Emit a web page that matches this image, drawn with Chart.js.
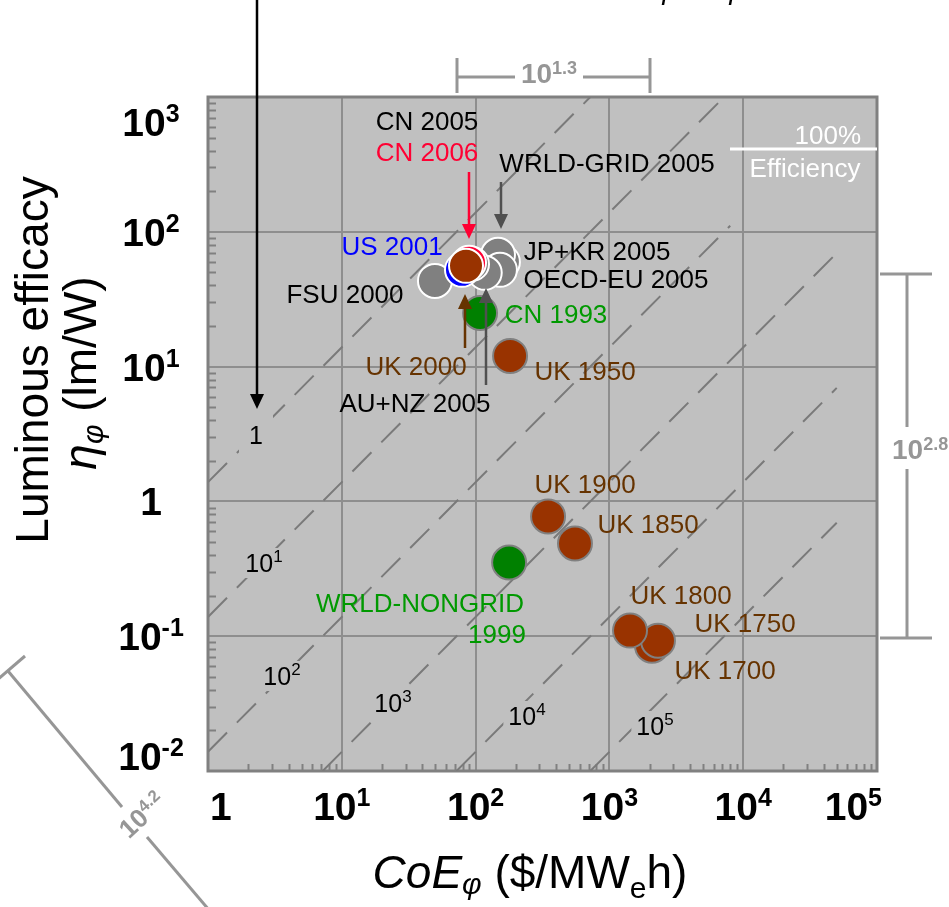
<!DOCTYPE html>
<html>
<head>
<meta charset="utf-8">
<script src="https://cdn.jsdelivr.net/npm/chart.js@4.4.0/dist/chart.umd.min.js"></script>
<style>
html,body{margin:0;padding:0;background:#ffffff;}
canvas{display:block;}
</style>
</head>
<body>
<canvas id="c" width="949" height="907" style="width:949px;height:907px"></canvas>
<script>
// ---------- data ----------
const xTicks = [1, 10, 100, 1000, 10000, 100000];
const xTickLabels = ['1', '10^1', '10^2', '10^3', '10^4', '10^5'];
const yTicks = [0.01, 0.1, 1, 10, 100, 1000];
const yTickLabels = ['10^-2', '10^-1', '1', '10^1', '10^2', '10^3'];

// UK historical series (CoE $/MWh, efficacy lm/W)
const ukNames = ['UK 1700', 'UK 1750', 'UK 1800', 'UK 1850', 'UK 1900', 'UK 1950'];
const ukCoE = [2080, 2307, 1426, 553, 348, 181];
const ukEff = [0.085, 0.0926, 0.110, 0.487, 0.774, 12.0];

// green series
const greenNames = ['CN 1993', 'WRLD-NONGRID 1999'];
const greenCoE = [108, 178];
const greenEff = [25.0, 0.352];

// gray (grid) series
const grayNames = ['JP+KR 2005', 'WRLD-GRID 2005', 'OECD-EU 2005', 'AU+NZ 2005', 'FSU 2000', 'CN 2005'];
const grayCoE = [160, 147, 152, 117, 49.7, 94];
const grayEff = [59.8, 67.5, 52.2, 49.6, 43.2, 57.8];

const usCoE = [79.1], usEff = [52.2];
const cn2006CoE = [89.3], cn2006Eff = [58.9];
const uk2000CoE = [84.8], uk2000Eff = [55.9];

// iso cost-of-light lines (end points)
const isoLabels = ['1', '10^1', '10^2', '10^3', '10^4', '10^5'];
const isoStartCoE = [1, 1, 1, 7.2, 72, 720];
const isoStartEff = [1.39, 0.139, 0.0139, 0.01, 0.01, 0.01];
const isoEndCoE = [720, 7200, 8000, 50000, 50000, 50000];
const isoEndEff = [1000, 1000, 111, 69.5, 6.95, 0.695];

// ---------- styles / layout ----------
const FF = '"Liberation Sans", Arial, Helvetica, sans-serif';
const COL = {
  brown: '#993300', brownText: '#663300', green: '#008000', greenText: '#009900',
  gray: '#808080', blue: '#0000ff', red: '#ff0033', anno: '#969696',
  plot: '#c0c0c0', grid: '#8e8e8e', frame: '#808080', dash: '#7a7a7a'
};

const textLabels = [
  ['CN 2005', 427, 121, '#000000'],
  ['CN 2006', 427, 152, COL.red],
  ['US 2001', 392, 246, COL.blue],
  ['FSU 2000', 345, 294, '#000000'],
  ['WRLD-GRID 2005', 607, 163, '#000000'],
  ['JP+KR 2005', 597, 251, '#000000'],
  ['OECD-EU 2005', 616, 279, '#000000'],
  ['CN 1993', 556, 314, COL.greenText],
  ['UK 2000', 416, 366, COL.brownText],
  ['AU+NZ 2005', 415, 403, '#000000'],
  ['UK 1950', 585, 371, COL.brownText],
  ['UK 1900', 585, 484, COL.brownText],
  ['UK 1850', 648, 524, COL.brownText],
  ['WRLD-NONGRID', 420, 603, COL.greenText],
  ['1999', 497, 634, COL.greenText],
  ['UK 1800', 681, 595, COL.brownText],
  ['UK 1750', 745, 623, COL.brownText],
  ['UK 1700', 725, 670, COL.brownText]
];
const isoLabelPos = [[256, 435], [264, 563], [282, 676], [393, 703], [527, 716], [655, 726]];
const arrows = [
  [257, 0, 409, '#000000'],
  [469, 172, 239, COL.red],
  [501, 182, 229, '#505050'],
  [465, 348, 294, COL.brownText],
  [486, 385, 288, '#505050']
];

function pts(xs, ys) { return xs.map((x, i) => ({ x: x, y: ys[i] })); }
function ptStyle(bg, border) {
  return { pointRadius: 17, pointHoverRadius: 17, pointBackgroundColor: bg,
           pointBorderColor: border, pointBorderWidth: 2, pointHoverBorderWidth: 2, showLine: false };
}

const datasets = [];
isoLabels.forEach((l, i) => {
  datasets.push({
    label: 'CoL ' + l,
    data: [{ x: isoStartCoE[i], y: isoStartEff[i] }, { x: isoEndCoE[i], y: isoEndEff[i] }],
    showLine: true, borderColor: COL.dash, borderWidth: 2, borderDash: [27, 14],
    pointRadius: 0, pointHoverRadius: 0, order: 20
  });
});
datasets.push(Object.assign({ label: 'UK', data: pts(ukCoE, ukEff), order: 8 }, ptStyle(COL.brown, '#808080')));
datasets.push(Object.assign({ label: 'Green', data: pts(greenCoE, greenEff), order: 7 }, ptStyle(COL.green, '#808080')));
datasets.push(Object.assign({ label: 'Grid', data: pts(grayCoE, grayEff), order: 5 }, ptStyle(COL.gray, '#ffffff')));
datasets.push(Object.assign({ label: 'US 2001', data: pts(usCoE, usEff), order: 4 }, ptStyle(COL.blue, '#ffffff')));
datasets.push(Object.assign({ label: 'CN 2006', data: pts(cn2006CoE, cn2006Eff), order: 3 }, ptStyle(COL.red, '#ffffff')));
datasets.push(Object.assign({ label: 'UK 2000', data: pts(uk2000CoE, uk2000Eff), order: 2 }, ptStyle(COL.brown, '#ffffff')));

// ---------- text helpers ----------
function partsWidth(ctx, parts) {
  let w = 0;
  for (const p of parts) { ctx.font = p.f; w += ctx.measureText(p.t).width; }
  return w;
}
function drawParts(ctx, parts, x, y, align, color) {
  const w = partsWidth(ctx, parts);
  let cx = align === 'center' ? x - w / 2 : (align === 'right' ? x - w : x);
  ctx.textAlign = 'left';
  ctx.textBaseline = 'alphabetic';
  for (const p of parts) {
    ctx.font = p.f;
    ctx.fillStyle = p.c || color;
    ctx.fillText(p.t, cx, y + (p.dy || 0));
    cx += ctx.measureText(p.t).width;
  }
  return w;
}
function powParts(label, baseFont, expFont, rise) {
  const m = label.split('^');
  const parts = [{ t: m[0], f: baseFont }];
  if (m.length > 1) parts.push({ t: m[1], f: expFont, dy: -rise });
  return parts;
}
function arrow(ctx, x, y0, y1, color) {
  const dir = y1 > y0 ? 1 : -1;
  const head = 15;
  ctx.strokeStyle = color; ctx.fillStyle = color; ctx.lineWidth = 2.5;
  ctx.beginPath(); ctx.moveTo(x, y0); ctx.lineTo(x, y1 - dir * head + dir); ctx.stroke();
  ctx.beginPath(); ctx.moveTo(x - 7, y1 - dir * head); ctx.lineTo(x + 7, y1 - dir * head); ctx.lineTo(x, y1); ctx.closePath(); ctx.fill();
}
function line(ctx, x0, y0, x1, y1) { ctx.beginPath(); ctx.moveTo(x0, y0); ctx.lineTo(x1, y1); ctx.stroke(); }

const deco = {
  id: 'deco',
  beforeDraw(chart) {
    const { ctx, chartArea: a } = chart;
    ctx.save();
    ctx.fillStyle = '#ffffff'; ctx.fillRect(0, 0, chart.width, chart.height);
    ctx.fillStyle = COL.plot; ctx.fillRect(a.left, a.top, a.right - a.left, a.bottom - a.top);
    ctx.restore();
  },
  beforeDatasetsDraw(chart) {
    const { ctx, chartArea: a, scales } = chart;
    ctx.save();
    // minor ticks
    ctx.strokeStyle = COL.frame; ctx.lineWidth = 2;
    for (let d = -2; d < 3; d++) for (let m = 2; m < 10; m++) {
      const py = Math.round(scales.y.getPixelForValue(m * Math.pow(10, d))) + 0.5;
      line(ctx, a.left, py, a.left + 8, py);
    }
    for (let d = 0; d < 5; d++) for (let m = 2; m < 10; m++) {
      const px = Math.round(scales.x.getPixelForValue(m * Math.pow(10, d))) + 0.5;
      line(ctx, px, a.bottom, px, a.bottom - 7);
    }
    // frame
    ctx.strokeStyle = COL.frame; ctx.lineWidth = 3;
    ctx.strokeRect(a.left, a.top, a.right - a.left, a.bottom - a.top);
    ctx.restore();
  },
  afterDatasetsDraw(chart) {
    const { ctx } = chart;
    ctx.save();
    // iso line labels on silver boxes
    isoLabels.forEach((l, i) => {
      const parts = powParts(l, '25px ' + FF, '17px ' + FF, 10);
      const w = partsWidth(ctx, parts);
      const [cx, cy] = isoLabelPos[i];
      const bw = i === 0 ? 34 : w + 10, bh = i === 0 ? 40 : 30;
      ctx.fillStyle = COL.plot;
      ctx.fillRect(cx - bw / 2, cy - bh / 2, bw, bh);
      drawParts(ctx, parts, cx, cy + 9, 'center', '#000000');
    });
    // data labels
    ctx.font = '26px ' + FF;
    ctx.textAlign = 'center'; ctx.textBaseline = 'alphabetic';
    for (const [t, x, y, c] of textLabels) { ctx.fillStyle = c; ctx.fillText(t, x, y + 9); }
    // 100% efficiency
    ctx.fillStyle = '#ffffff';
    ctx.textAlign = 'right'; ctx.fillText('100%', 861, 144);
    ctx.textAlign = 'center'; ctx.fillText('Efficiency', 805, 177);
    ctx.strokeStyle = '#ffffff'; ctx.lineWidth = 3;
    line(ctx, 730, 149, 877, 149);
    // arrows
    for (const [x, y0, y1, c] of arrows) arrow(ctx, x, y0, y1, c);
    ctx.restore();
  },
  afterDraw(chart) {
    const { ctx, chartArea: a, scales } = chart;
    ctx.save();
    // tick labels
    xTicks.forEach((v, i) => {
      const parts = powParts(xTickLabels[i], 'bold 39px ' + FF, 'bold 25px ' + FF, 14);
      const w = partsWidth(ctx, parts);
      const px = scales.x.getPixelForValue(v);
      const left = Math.min(Math.max(px - w / 2, a.left + 2), a.right + 5 - w);
      drawParts(ctx, parts, left, 820, 'left', '#000000');
    });
    yTicks.forEach((v, i) => {
      const parts = powParts(yTickLabels[i], 'bold 39px ' + FF, 'bold 25px ' + FF, 14);
      const py = scales.y.getPixelForValue(v);
      const cy = Math.min(Math.max(py, a.top + 25), a.bottom - 15);
      drawParts(ctx, parts, 151, cy + 14, 'center', '#000000');
    });
    // axis titles
    drawParts(ctx, [
      { t: 'CoE', f: 'italic 46px ' + FF },
      { t: '\u03C6', f: 'italic 30px ' + FF, dy: 6 },
      { t: ' ($/MW', f: '46px ' + FF },
      { t: 'e', f: '30px ' + FF, dy: 10 },
      { t: 'h)', f: '46px ' + FF }
    ], 530, 888, 'center', '#000000');
    ctx.save();
    ctx.translate(48, 360); ctx.rotate(-Math.PI / 2);
    ctx.font = '46px ' + FF; ctx.fillStyle = '#000000'; ctx.textAlign = 'center'; ctx.textBaseline = 'alphabetic';
    ctx.fillText('Luminous efficacy', 0, 0);
    ctx.restore();
    ctx.save();
    ctx.translate(96, 373); ctx.rotate(-Math.PI / 2);
    drawParts(ctx, [
      { t: '\u03B7', f: 'italic 46px ' + FF },
      { t: '\u03C6', f: 'italic 30px ' + FF, dy: 7 },
      { t: ' (lm/W)', f: '46px ' + FF }
    ], 0, 0, 'center', '#000000');
    ctx.restore();
    // top cut-off subscripts
    ctx.font = 'italic 30px ' + FF; ctx.fillStyle = '#000000'; ctx.textAlign = 'left';
    ctx.fillText('\u03C6', 656, -1);
    ctx.fillText('\u03C6', 723, -1);
    // brackets
    ctx.strokeStyle = COL.anno; ctx.lineWidth = 3;
    line(ctx, 457, 77, 515, 77); line(ctx, 583, 77, 650, 77);
    line(ctx, 457, 58, 457, 93); line(ctx, 650, 58, 650, 93);
    drawParts(ctx, powParts('10^1.3', 'bold 28px ' + FF, 'bold 18px ' + FF, 9), 549, 83, 'center', COL.anno);
    line(ctx, 907, 274, 907, 427); line(ctx, 907, 469, 907, 638);
    line(ctx, 880, 274, 932, 274); line(ctx, 880, 638, 932, 638);
    drawParts(ctx, powParts('10^2.8', 'bold 28px ' + FF, 'bold 18px ' + FF, 9), 892, 459, 'left', COL.anno);
    line(ctx, 8, 671, 122, 807); line(ctx, 147, 837, 215, 917);
    line(ctx, -3, 680, 25, 656);
    ctx.save();
    ctx.translate(142, 815); ctx.rotate(-0.75);
    drawParts(ctx, powParts('10^4.2', 'bold 26px ' + FF, 'bold 17px ' + FF, 9), 0, 9, 'center', COL.anno);
    ctx.restore();
    ctx.restore();
  }
};

Chart.defaults.font.family = FF;
const logScale = (min, max, ticks) => ({
  type: 'logarithmic', min: min, max: max,
  afterBuildTicks: s => { s.ticks = ticks.map(v => ({ value: v })); },
  ticks: { display: false },
  grid: { color: COL.grid, lineWidth: 2, drawTicks: false },
  border: { display: false }
});

new Chart(document.getElementById('c'), {
  type: 'scatter',
  data: { datasets: datasets },
  options: {
    responsive: false, devicePixelRatio: 1, animation: false, events: [],
    layout: { padding: { left: 208, right: 72, top: 97, bottom: 136 } },
    plugins: { legend: { display: false }, tooltip: { enabled: false } },
    scales: { x: logScale(1, 100000, xTicks), y: logScale(0.01, 1000, yTicks) }
  },
  plugins: [deco]
});
</script>
</body>
</html>
